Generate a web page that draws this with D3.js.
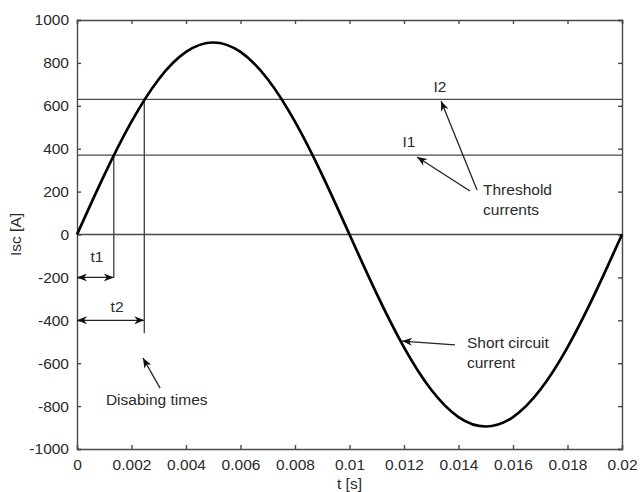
<!DOCTYPE html>
<html>
<head>
<meta charset="utf-8">
<script src="https://cdn.jsdelivr.net/npm/d3@7"></script>
<style>
  body { margin: 0; background: #fff; }
  svg text { font-family: "Liberation Sans", Arial, sans-serif; fill: #2a2a2a; }
</style>
</head>
<body>
<div id="chart"></div>
<script>
// samples
const times = [0, 0.001, 0.002, 0.003, 0.004, 0.005, 0.006, 0.007, 0.008, 0.009, 0.01,
               0.011, 0.012, 0.013, 0.014, 0.015, 0.016, 0.017, 0.018, 0.019, 0.02];
const current = [0, 277, 526, 724, 851, 895, 851, 724, 526, 277, 0,
                 -277, -526, -724, -851, -895, -851, -724, -526, -277, 0];

const thresholds = [370, 630];          // I1, I2
const disableTimes = [0.00135, 0.00247]; // t1, t2
const arrowLevels = [-200, -400];        // where the t1 / t2 arrows sit
const t2LineEnd = -460;

const xTicks = [0, 0.002, 0.004, 0.006, 0.008, 0.01, 0.012, 0.014, 0.016, 0.018, 0.02];
const yTicks = [-1000, -800, -600, -400, -200, 0, 200, 400, 600, 800, 1000];

const width = 640, height = 492;
const margin = {top: 20, right: 18, bottom: 43, left: 77};

const svg = d3.select("#chart")
              .append("svg")
              .attr("width", width)
              .attr("height", height);

const x = d3.scaleLinear().domain([0, 0.02]).range([margin.left, width - margin.right]);
const y = d3.scaleLinear().domain([-1000, 1000]).range([height - margin.bottom, margin.top]);

const grey = "#4a4a4a";

// arrow head
const defs = svg.append("defs");
defs.append("marker")
    .attr("id", "head")
    .attr("viewBox", "0 0 10 8")
    .attr("refX", 10).attr("refY", 4)
    .attr("markerWidth", 11).attr("markerHeight", 8)
    .attr("markerUnits", "userSpaceOnUse")
    .attr("orient", "auto-start-reverse")
    .append("path")
    .attr("d", "M0,0 L10,4 L0,8 L3,4 Z")
    .attr("fill", "#111");

// Axes (MATLAB style box with inner ticks)
const fmt = d => d === 0 ? "0" : String(d);
const fs = "15.5px";

svg.append("g")
   .attr("transform", `translate(0,${y(-1000)})`)
   .call(d3.axisBottom(x).tickValues(xTicks).tickSize(-4).tickPadding(9).tickFormat(fmt))
   .call(g => g.selectAll("text").style("font-size", fs).attr("dy", "0.75em"));

svg.append("g")
   .attr("transform", `translate(${x(0)},0)`)
   .call(d3.axisLeft(y).tickValues(yTicks).tickSize(-4).tickPadding(8).tickFormat(fmt))
   .call(g => g.selectAll("text").style("font-size", fs));

svg.append("g")
   .attr("transform", `translate(0,${y(1000)})`)
   .call(d3.axisTop(x).tickValues(xTicks).tickSize(-4).tickFormat(""));

svg.append("g")
   .attr("transform", `translate(${x(0.02)},0)`)
   .call(d3.axisRight(y).tickValues(yTicks).tickSize(-4).tickFormat(""));

svg.selectAll(".domain, .tick line").attr("stroke", grey).attr("stroke-width", 1.4);

// zero line + threshold lines
svg.append("g")
   .selectAll("line")
   .data([0, ...thresholds])
   .join("line")
   .attr("x1", x(0)).attr("x2", x(0.02))
   .attr("y1", d => y(d)).attr("y2", d => y(d))
   .attr("stroke", grey).attr("stroke-width", 1.4);

// vertical lines for disable times
const vEnds = [arrowLevels[0], t2LineEnd];
svg.append("g")
   .selectAll("line")
   .data(disableTimes)
   .join("line")
   .attr("x1", d => x(d)).attr("x2", d => x(d))
   .attr("y1", (d, i) => y(thresholds[i]))
   .attr("y2", (d, i) => y(vEnds[i]))
   .attr("stroke", grey).attr("stroke-width", 1.4);

// double arrows t1, t2
svg.append("g")
   .selectAll("line")
   .data(disableTimes)
   .join("line")
   .attr("x1", x(0)).attr("x2", d => x(d))
   .attr("y1", (d, i) => y(arrowLevels[i]))
   .attr("y2", (d, i) => y(arrowLevels[i]))
   .attr("stroke", "#222").attr("stroke-width", 1.3)
   .attr("marker-start", "url(#head)")
   .attr("marker-end", "url(#head)");

// short circuit current
const line = d3.line()
               .x((d, i) => x(times[i]))
               .y(d => y(d))
               .curve(d3.curveNatural);

svg.append("path")
   .datum(current)
   .attr("d", line)
   .attr("fill", "none")
   .attr("stroke", "#000")
   .attr("stroke-width", 2.7);

// annotations (data coordinates)
const labels = [
    {t: 0.00073, v: -128, text: "t1", anchor: "middle"},
    {t: 0.00147, v: -361, text: "t2", anchor: "middle"},
    {t: 0.01218, v: 408,  text: "I1", anchor: "middle"},
    {t: 0.01332, v: 664,  text: "I2", anchor: "middle"},
    {t: 0.0149,  v: 184,  text: "Threshold", anchor: "start"},
    {t: 0.0149,  v: 91,   text: "currents", anchor: "start"},
    {t: 0.01431, v: -529, text: "Short circuit", anchor: "start"},
    {t: 0.01431, v: -622, text: "current", anchor: "start"},
    {t: 0.00106, v: -795, text: "Disabing times", anchor: "start"}
];

svg.append("g")
   .selectAll("text")
   .data(labels)
   .join("text")
   .attr("x", d => x(d.t))
   .attr("y", d => y(d.v))
   .attr("text-anchor", d => d.anchor)
   .style("font-size", fs)
   .text(d => d.text);

const pointers = [
    [[0.01468, 207], [0.01336, 622]],
    [[0.01442, 203], [0.01248, 361]],
    [[0.01387, -515], [0.01193, -497]],
    [[0.00305, -716], [0.00242, -576]]
];

svg.append("g")
   .selectAll("line")
   .data(pointers)
   .join("line")
   .attr("x1", d => x(d[0][0])).attr("y1", d => y(d[0][1]))
   .attr("x2", d => x(d[1][0])).attr("y2", d => y(d[1][1]))
   .attr("stroke", "#222").attr("stroke-width", 1.3)
   .attr("marker-end", "url(#head)");

// axis titles
svg.append("text")
   .attr("x", x(0.01))
   .attr("y", 489)
   .attr("text-anchor", "middle")
   .style("font-size", fs)
   .text("t [s]");

svg.append("text")
   .attr("transform", `translate(21,${y(0)}) rotate(-90)`)
   .attr("text-anchor", "middle")
   .style("font-size", fs)
   .text("Isc [A]");
</script>
</body>
</html>
